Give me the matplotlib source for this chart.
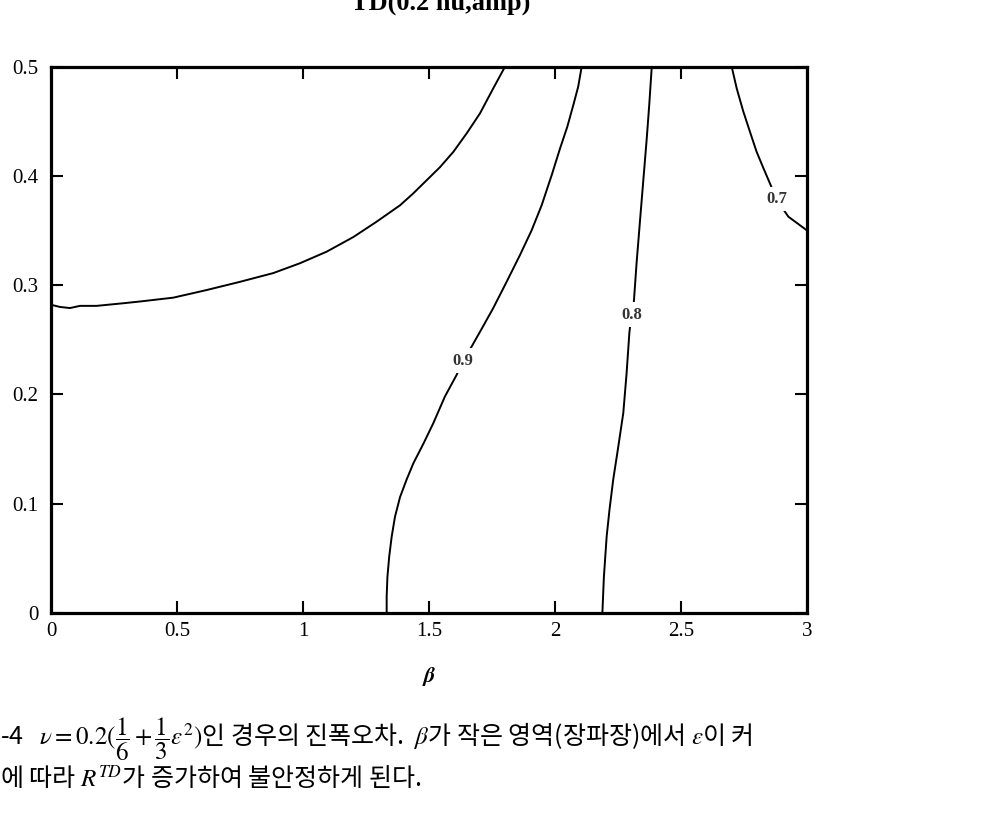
import numpy as np
import matplotlib
matplotlib.use('Agg')
import matplotlib.pyplot as plt

plt.rcParams['mathtext.fontset'] = 'stix'

# contour lines (beta, epsilon)
top_beta = [0, 0.036, 0.075, 0.115, 0.181, 0.287, 0.353, 0.485, 0.618, 0.75, 0.882, 0.988, 1.094,
            1.20, 1.292, 1.385, 1.438, 1.491, 1.544, 1.597, 1.650, 1.702, 1.755, 1.802]
top_eps = [0.282, 0.280, 0.279, 0.281, 0.281, 0.2834, 0.285, 0.2885, 0.2955, 0.303, 0.311, 0.320, 0.3306,
           0.344, 0.358, 0.373, 0.384, 0.396, 0.408, 0.422, 0.439, 0.457, 0.480, 0.5]

c09_beta = [2.106, 2.092, 2.073, 2.049, 2.020, 1.987, 1.947, 1.907, 1.861, 1.808, 1.755, 1.709, 1.669,
            1.636, 1.610, 1.563, 1.517, 1.478, 1.438, 1.411, 1.385, 1.365, 1.352, 1.342, 1.335, 1.332, 1.332]
c09_eps = [0.5, 0.4815, 0.465, 0.445, 0.425, 0.4007, 0.373, 0.350, 0.3275, 0.303, 0.279, 0.260, 0.2437,
           0.231, 0.218, 0.198, 0.1736, 0.155, 0.137, 0.122, 0.106, 0.088, 0.070, 0.0515, 0.033, 0.015, 0.0]

c08_beta = [2.384, 2.374, 2.364, 2.350, 2.337, 2.324, 2.313, 2.303, 2.295, 2.284, 2.271, 2.251,
            2.231, 2.216, 2.205, 2.194, 2.188]
c08_eps = [0.5, 0.465, 0.434, 0.3946, 0.358, 0.321, 0.285, 0.273, 0.256, 0.219, 0.183, 0.152,
           0.122, 0.094, 0.070, 0.033, 0.0]

c07_beta = [2.701, 2.721, 2.747, 2.774, 2.800, 2.827, 2.853, 2.88, 2.926, 3.0]
c07_eps = [0.5, 0.480, 0.459, 0.440, 0.422, 0.407, 0.393, 0.378, 0.3626, 0.35]

labels = ['0.9', '0.8', '0.7']
label_beta = [1.636, 2.303, 2.88]
label_eps = [0.231, 0.273, 0.379]

xticks = [0, 0.5, 1, 1.5, 2, 2.5, 3]
xticklabels = ['0', '0.5', '1', '1.5', '2', '2.5', '3']
yticks = [0, 0.1, 0.2, 0.3, 0.4, 0.5]
yticklabels = ['0', '0.1', '0.2', '0.3', '0.4', '0.5']

fig = plt.figure(figsize=(9.81, 8.23), dpi=100)
ax = fig.add_axes([51/981, 1 - 613/823, (807 - 51)/981, (613 - 66.5)/823])

for bx, ey in [(top_beta, top_eps), (c09_beta, c09_eps), (c08_beta, c08_eps), (c07_beta, c07_eps)]:
    ax.plot(bx, ey, color='black', lw=1.4, solid_joinstyle='round', solid_capstyle='round')

for lab, bx, ey in zip(labels, label_beta, label_eps):
    ax.text(bx, ey, lab, ha='center', va='center', fontsize=12, family='Liberation Serif',
            weight='bold', color='#333333',
            bbox=dict(facecolor='white', edgecolor='none', pad=3))

ax.set_xlim(0, 3)
ax.set_ylim(0, 0.5)
ax.set_xticks(xticks)
ax.set_xticklabels(xticklabels)
ax.set_yticks(yticks)
ax.set_yticklabels(yticklabels)
for sp in ax.spines.values():
    sp.set_linewidth(2.3)
ax.tick_params(direction='in', length=8.5, width=1.5, top=True, right=True)
ax.tick_params(axis='x', pad=6.5)
ax.tick_params(axis='y', pad=9)
for t in ax.get_xticklabels() + ax.get_yticklabels():
    t.set_family('Liberation Serif')
    t.set_fontsize(15)

fig.text(429/981, 1 - 676/823, r'$\boldsymbol{\beta}$', ha='center', va='center', fontsize=16)

# title, cut off at the top edge like the scan
fig.text(441/981, 1 - 11/823, 'TD(0.2 nu,amp)', ha='center', va='baseline',
         fontsize=19, weight='bold', family='Liberation Serif')

cap1 = r'-4   $\nu=0.2(\dfrac{1}{6}+\dfrac{1}{3}\varepsilon^2)$인 경우의 진폭오차.  $\beta$가 작은 영역(장파장)에서 $\varepsilon$이 커'
cap2 = r'에 따라 $R^{TD}$가 증가하여 불안정하게 된다.'
fig.text(0.0, 1 - 745/823, cap1, ha='left', va='baseline', fontsize=18, family='Noto Sans CJK KR')
fig.text(0.0, 1 - 786/823, cap2, ha='left', va='baseline', fontsize=18, family='Noto Sans CJK KR')

fig.savefig('out.png', dpi=100)
